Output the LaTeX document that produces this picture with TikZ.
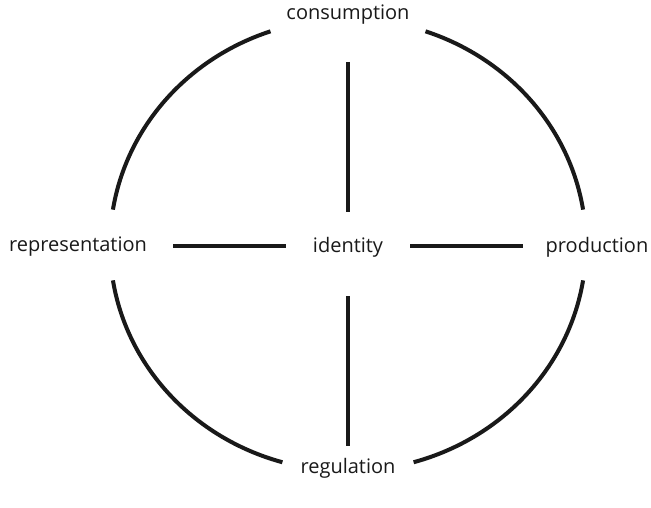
\documentclass[tikz,border=0pt]{standalone}
\usepackage{fontspec}
\setmainfont{Open Sans}
\begin{document}
\begin{tikzpicture}[x=1pt,y=-1pt,
  ring/.style={line width=4pt,black!90},
  spoke/.style={line width=3.6pt,black!90},
  lbl/.style={inner sep=0pt,font=\fontsize{20}{24}\selectfont,text=black!90}]
\useasboundingbox (0,0) rectangle (651,508);
% circle made of four arcs
\coordinate (c) at (348,245);
\draw[ring] (c) ++(-109:238 and 226) arc[start angle=-109,end angle=-171,x radius=238,y radius=226];
\draw[ring] (c) ++(-71:238 and 226) arc[start angle=-71,end angle=-9,x radius=238,y radius=226];
\draw[ring] (c) ++(171:238 and 226) arc[start angle=171,end angle=106,x radius=238,y radius=226];
\draw[ring] (c) ++(9:238 and 226) arc[start angle=9,end angle=74,x radius=238,y radius=226];
% labels
\node[lbl] (top) at (348,15) {consumption};
\node[lbl] (bot) at (348,468) {regulation};
\node[lbl] (lft) at (78,247) {representation};
\node[lbl] (rgt) at (597,247) {production};
\node[lbl] (mid) at (348,247) {identity};
% spokes
\coordinate (t1) at (348,62);  \coordinate (t2) at (348,212);
\coordinate (b1) at (348,296); \coordinate (b2) at (348,446);
\coordinate (l1) at (173,246); \coordinate (l2) at (286,246);
\coordinate (r1) at (410,246); \coordinate (r2) at (523,246);
\draw[spoke] (t1) -- (t2);
\draw[spoke] (b1) -- (b2);
\draw[spoke] (l1) -- (l2);
\draw[spoke] (r1) -- (r2);
\end{tikzpicture}
\end{document}
